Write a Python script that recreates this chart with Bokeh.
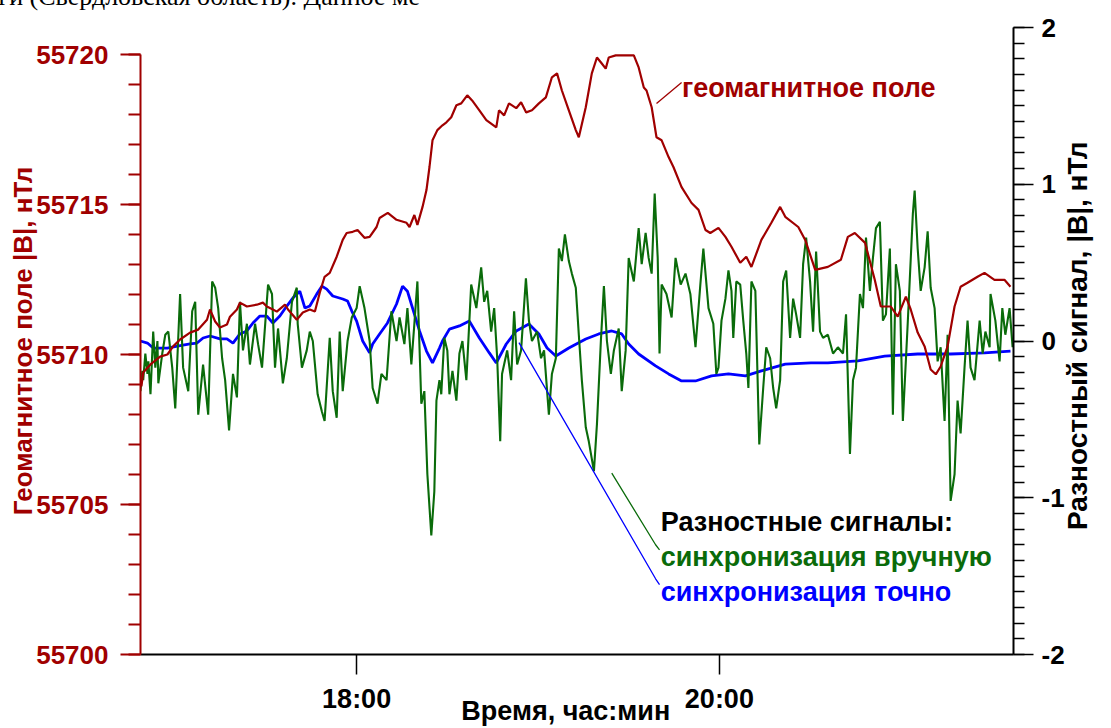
import math
from bokeh.plotting import figure
from bokeh.models import Range1d, LinearAxis, Label, FixedTicker, Title
from bokeh.embed import file_html
from bokeh.resources import INLINE

# ---------------------------------------------------------------
# Time axis: minutes after 16:00
# ---------------------------------------------------------------
field_t = [48.8, 49.4, 51.8, 55.0, 57.4, 59.3, 61.6, 64.9, 67.6, 70.5, 71.5, 73.2, 74.8, 77.1,
           78.1, 80.4, 81.4, 83.7, 87.0, 89.0, 90.3, 92.3, 93.6, 96.3, 97.3, 100.2, 102.2, 104.5,
           106.2, 107.8, 109.4, 111.1, 113.4, 115.4, 116.7, 118.7, 120.3, 122.6, 124.3, 126.6,
           127.6, 130.3, 133.2, 136.5, 137.5, 139.1, 140.1, 141.8, 143.1, 144.1, 145.1, 146.7,
           148.4, 149.7, 151.3, 153.0, 154.6, 156.6, 158.2, 160.6, 162.9, 166.2, 167.1, 168.8,
           170.4, 172.8, 174.4, 176.1, 178.0, 180.3, 182.6, 184.6, 186.3, 187.9, 190.2, 192.5,
           193.5, 195.8, 197.8, 199.5, 201.1, 202.4, 203.4, 205.7, 209.0, 211.7, 213.3, 215.0,
           215.9, 217.6, 219.2, 220.9, 223.2, 224.8, 227.5, 230.8, 233.1, 235.4, 237.0, 239.7,
           242.0, 244.0, 246.9, 248.9, 250.6, 253.9, 257.2, 260.1, 261.8, 266.1, 268.4, 271.7,
           275.9, 280.2, 282.5, 284.8, 288.2, 291.4, 293.4, 296.7, 299.0, 301.7, 303.3, 305.6,
           307.9, 309.9, 311.6, 313.2, 315.5, 317.8, 319.8, 322.1, 325.4, 327.7, 331.0, 334.3,
           336.3]
field_nT = [55708.94, 55709.40, 55709.67, 55709.93, 55710.00, 55710.27, 55710.50, 55710.73,
            55710.83, 55711.16, 55711.50, 55711.10, 55710.90, 55711.00, 55711.26, 55711.50,
            55711.73, 55711.60, 55711.66, 55711.73, 55711.60, 55711.50, 55711.43, 55711.66,
            55711.50, 55711.16, 55711.40, 55711.50, 55711.43, 55712.06, 55712.59, 55712.72,
            55713.26, 55713.82, 55714.05, 55714.09, 55714.15, 55713.89, 55713.92, 55714.25,
            55714.55, 55714.72, 55714.49, 55714.39, 55714.25, 55714.65, 55714.32, 55714.92,
            55715.48, 55716.25, 55717.14, 55717.48, 55717.64, 55717.74, 55717.91, 55718.31,
            55718.37, 55718.64, 55718.47, 55718.14, 55717.81, 55717.57, 55718.14, 55717.97,
            55718.37, 55718.21, 55718.41, 55718.07, 55718.14, 55718.37, 55718.57, 55719.24,
            55719.37, 55718.80, 55718.14, 55717.48, 55717.24, 55718.24, 55719.37, 55719.90,
            55719.70, 55719.53, 55719.90, 55719.97, 55719.97, 55719.97, 55719.57, 55718.90,
            55718.80, 55718.24, 55717.24, 55717.14, 55716.58, 55716.25, 55715.58, 55715.05,
            55714.82, 55714.15, 55714.05, 55714.22, 55713.92, 55713.59, 55713.06, 55713.26,
            55712.92, 55713.82, 55714.39, 55714.92, 55714.59, 55714.25, 55713.82, 55712.82,
            55712.92, 55713.16, 55713.92, 55714.05, 55713.72, 55712.49, 55711.60, 55711.60,
            55711.26, 55711.93, 55711.50, 55710.73, 55710.27, 55709.50, 55709.34, 55709.60,
            55710.27, 55711.60, 55712.26, 55712.39, 55712.59, 55712.72, 55712.49, 55712.49,
            55712.26]

# difference signal, exact synchronisation (nT)
exact_t = [48.5, 50.8, 52.7, 57.4, 60.7, 64.9, 67.2, 69.2, 71.5, 74.8, 77.1, 79.1, 81.4, 83.7,
           85.7, 88.0, 90.3, 92.3, 94.6, 96.9, 98.9, 101.2, 102.9, 104.5, 106.8, 108.5, 110.1,
           112.1, 115.4, 117.0, 118.4, 120.0, 122.0, 124.3, 125.3, 127.6, 130.2, 133.2, 135.2,
           136.8, 138.5, 140.8, 143.1, 145.1, 147.4, 148.4, 150.7, 154.0, 157.3, 160.6, 163.9,
           166.2, 169.5, 172.8, 177.0, 180.3, 183.0, 185.9, 190.2, 195.8, 200.1, 204.4, 207.7,
           210.0, 213.3, 218.9, 223.2, 227.5, 232.1, 237.4, 243.0, 248.6, 253.9, 261.8, 270.3,
           275.9, 285.8, 294.7, 305.6, 316.5, 327.7, 336.3]
exact_d = [0.00, -0.013, -0.045, -0.045, -0.032, -0.019, -0.013, 0.019, 0.032, 0.013, 0.013,
           -0.013, 0.045, 0.064, 0.115, 0.159, 0.159, 0.115, 0.159, 0.223, 0.274, 0.318, 0.210,
           0.223, 0.299, 0.350, 0.331, 0.287, 0.268, 0.255, 0.191, 0.127, 0.000, -0.076, -0.019,
           0.045, 0.115, 0.236, 0.350, 0.318, 0.210, 0.064, -0.064, -0.140, -0.045, 0.000, 0.076,
           0.096, 0.127, 0.019, -0.076, -0.140, -0.019, 0.064, 0.108, 0.045, -0.045, -0.096,
           -0.045, 0.013, 0.045, 0.064, 0.045, -0.019, -0.083, -0.159, -0.210, -0.255, -0.255,
           -0.223, -0.210, -0.223, -0.191, -0.147, -0.140, -0.140, -0.127, -0.096, -0.083,
           -0.083, -0.076, -0.064]

# difference signal, manual synchronisation (nT)
manual_t = [48.5, 49.1, 49.4, 50.1, 50.8, 51.1, 51.8, 52.7, 53.4, 54.1, 54.4, 55.7, 56.7, 57.7,
            59.0, 60.0, 60.7, 61.6, 62.6, 64.3, 65.6, 66.6, 67.6, 69.2, 70.9, 72.2, 73.2, 74.2,
            75.5, 76.5, 77.8, 79.1, 80.4, 81.4, 82.4, 83.7, 84.7, 86.4, 87.4, 88.7, 90.7, 92.0,
            93.0, 94.0, 95.6, 96.9, 98.6, 100.2, 100.5, 101.9, 103.5, 104.5, 105.5, 107.1, 108.5,
            109.4, 111.1, 112.1, 113.4, 114.4, 115.4, 117.0, 118.4, 120.0, 121.0, 122.6, 124.3,
            125.3, 126.9, 128.2, 129.9, 131.5, 133.2, 134.2, 135.8, 136.8, 138.1, 139.1, 140.1,
            141.4, 142.4, 143.4, 144.7, 145.7, 146.4, 147.4, 148.0, 149.0, 150.0, 150.7, 151.7,
            153.0, 154.0, 155.0, 156.3, 157.9, 159.6, 161.2, 162.2, 163.2, 164.5, 165.5, 166.5,
            167.5, 168.1, 169.8, 171.1, 172.1, 173.1, 174.4, 176.0, 177.0, 178.0, 179.7, 181.0,
            182.0, 183.6, 184.6, 185.9, 186.9, 187.9, 188.9, 190.2, 191.2, 192.5, 193.5, 194.5,
            195.8, 196.8, 198.5, 199.5, 200.8, 201.8, 202.8, 204.1, 205.1, 206.7, 207.7, 209.0,
            210.0, 211.7, 213.3, 214.3, 215.6, 216.6, 217.6, 218.6, 219.6, 220.2, 220.9, 222.5,
            224.2, 225.5, 227.2, 228.8, 230.4, 232.1, 233.7, 234.7, 236.4, 238.0, 239.0, 239.7,
            240.7, 242.0, 243.0, 244.0, 244.6, 245.6, 246.9, 247.9, 248.9, 249.6, 250.6, 251.9,
            253.2, 254.5, 255.5, 256.8, 257.8, 258.8, 260.1, 261.1, 262.1, 263.4, 264.4, 265.4,
            266.7, 267.7, 268.7, 270.0, 271.0, 272.0, 273.3, 274.3, 275.9, 277.6, 279.2, 280.9,
            281.9, 283.2, 284.2, 285.2, 286.5, 287.5, 288.5, 289.8, 290.8, 291.8, 293.1, 294.1,
            295.1, 296.4, 297.4, 298.4, 299.7, 300.7, 302.3, 304.0, 304.6, 305.6, 306.6, 307.9,
            308.9, 309.9, 311.2, 312.2, 313.2, 314.5, 315.5, 316.5, 317.8, 318.8, 319.8, 321.1,
            322.1, 323.1, 324.4, 326.1, 327.1, 328.0, 329.4, 329.7, 331.3, 332.7, 333.6, 334.6,
            336.0, 337.0]
manual_d = [-0.32, -0.19, -0.25, -0.08, -0.21, -0.13, -0.34, 0.06, -0.17, 0.00, -0.27, -0.08,
            0.04, 0.06, -0.17, -0.43, -0.11, 0.30, -0.17, -0.32, 0.19, 0.25, -0.47, -0.15, -0.47,
            0.38, 0.34, 0.21, -0.11, -0.25, -0.57, -0.21, -0.36, 0.25, -0.06, 0.11, -0.15, 0.11,
            -0.02, -0.17, 0.36, 0.30, -0.17, 0.08, -0.27, -0.11, 0.25, 0.34, 0.11, -0.17, -0.06,
            0.06, 0.00, -0.34, -0.45, -0.51, 0.02, -0.32, -0.49, 0.06, -0.32, 0.00, 0.15, 0.21,
            0.35, 0.21, 0.00, -0.30, -0.40, -0.21, -0.25, 0.19, 0.00, 0.15, -0.02, 0.21, -0.15,
            0.11, 0.38, -0.40, -0.32, -0.85, -1.24, -0.96, -0.38, -0.25, -0.34, 0.02, -0.06,
            -0.34, -0.19, -0.38, -0.08, 0.00, -0.25, 0.36, 0.21, 0.47, 0.25, 0.32, 0.06, 0.21,
            -0.11, -0.64, -0.21, -0.06, -0.25, 0.19, -0.15, -0.06, 0.40, 0.13, 0.00, 0.06, -0.11,
            -0.06, -0.47, -0.21, -0.11, 0.59, 0.51, 0.68, 0.51, 0.43, 0.34, 0.04, -0.25, -0.55,
            -0.64, -0.83, -0.53, 0.00, 0.35, 0.00, -0.21, -0.06, 0.08, -0.32, -0.06, 0.53, 0.38,
            0.72, 0.49, 0.69, 0.53, 0.43, 0.94, 0.53, -0.08, 0.36, 0.30, 0.15, 0.53, 0.36, 0.43,
            0.30, -0.04, 0.36, 0.59, 0.21, 0.11, -0.21, -0.17, 0.13, 0.27, 0.45, 0.32, 0.02,
            0.38, 0.36, 0.13, -0.08, -0.30, 0.38, 0.32, -0.66, -0.30, -0.04, -0.11, -0.30, -0.43,
            -0.25, 0.38, 0.45, 0.02, 0.27, 0.17, 0.02, 0.49, 0.66, 0.38, 0.06, 0.57, 0.06, 0.02,
            0.04, -0.08, -0.04, -0.08, 0.17, -0.72, -0.25, -0.17, 0.30, 0.21, 0.66, 0.32, 0.53,
            0.72, 0.76, 0.13, 0.17, 0.59, -0.47, 0.49, 0.32, -0.51, 0.11, 0.81, 0.96, 0.59, 0.32,
            0.47, 0.70, 0.34, 0.21, -0.13, -0.04, -0.51, 0.04, -1.02, -0.85, -0.38, -0.59, -0.17,
            0.13, -0.17, -0.25, 0.13, -0.08, 0.06, -0.04, 0.30, 0.13, -0.13, 0.21, 0.04, 0.21,
            -0.04]

x_ticks = [120, 240]
x_tick_labels = ["18:00", "20:00"]
left_ticks = [55700, 55705, 55710, 55715, 55720]
right_ticks = [-2, -1, 0, 1, 2]
right_tick_labels = ["-2", "-1", "0", "1", "2"]

# callout leader lines (time, value)
field_leader_t = [219.2, 227.5]
field_leader_v = [55718.37, 55719.07]
manual_leader_t = [204.4, 218.9, 220.2]
manual_leader_v = [-0.843, -1.300, -1.332]
exact_leader_t = [173.7, 218.9, 220.2]
exact_leader_v = [-0.010, -1.517, -1.554]

DARK_RED = "#a00000"
GREEN = "#0a6b0a"
BLUE = "#0000ff"
FONT = "Liberation Sans"
NBSP = "\u00a0"

p = figure(width=1111, height=728, output_backend="svg", toolbar_location=None,
           x_range=Range1d(48.5, 337.3), y_range=Range1d(55700, 55720.9),
           min_border_left=140, min_border_right=95, min_border_top=27,
           min_border_bottom=72, background_fill_color="white",
           border_fill_color="white")
p.outline_line_color = None
p.xgrid.visible = False
p.ygrid.visible = False
p.extra_y_ranges = {"diff": Range1d(-2, 2)}


def bare(axis):
    """Axis that carries only its title."""
    axis.ticker = FixedTicker(ticks=[], minor_ticks=[])
    axis.axis_line_color = None
    axis.major_tick_line_color = None
    axis.minor_tick_line_color = None
    axis.major_tick_out = 0
    axis.minor_tick_out = 0
    axis.major_label_text_font_size = "0px"
    axis.axis_label_text_font = FONT
    axis.axis_label_text_font_style = "bold"
    return axis


# ---- bottom (time) axis
xa = p.xaxis[0]
xa.ticker = FixedTicker(ticks=x_ticks, minor_ticks=[])
xa.major_label_overrides = dict(zip(x_ticks, x_tick_labels))
xa.axis_line_color = "black"
xa.axis_line_width = 2
xa.major_tick_line_color = "black"
xa.major_tick_line_width = 1.5
xa.major_tick_in = 0
xa.major_tick_out = 20
xa.minor_tick_line_color = None
xa.major_label_text_font = FONT
xa.major_label_text_font_style = "bold"
xa.major_label_text_font_size = "27px"
xa.major_label_text_color = "black"
xa.major_label_standoff = 9

# time-axis title (trailing no-break spaces nudge it left of the frame middle)
xt = bare(LinearAxis())
xt.axis_label = "Время, час:мин" + NBSP * 3
xt.axis_label_text_font_size = "27px"
xt.axis_label_text_color = "black"
xt.axis_label_standoff = -21
p.add_layout(xt, "below")

# ---- left axis (geomagnetic field)
ya = p.yaxis[0]
ya.ticker = FixedTicker(ticks=left_ticks, minor_ticks=list(range(55700, 55721)))
ya.bounds = (55700, 55720)
ya.axis_line_color = DARK_RED
ya.axis_line_width = 2
ya.major_tick_line_color = DARK_RED
ya.major_tick_line_width = 2
ya.major_tick_in = 0
ya.major_tick_out = 20
ya.minor_tick_line_color = DARK_RED
ya.minor_tick_line_width = 2
ya.minor_tick_in = 0
ya.minor_tick_out = 12
ya.major_label_text_font = FONT
ya.major_label_text_font_style = "bold"
ya.major_label_text_font_size = "26px"
ya.major_label_text_color = DARK_RED
ya.major_label_standoff = 12
ya.axis_label = "Геомагнитное поле |B|, нТл"
ya.axis_label_text_font = FONT
ya.axis_label_text_font_style = "bold"
ya.axis_label_text_font_size = "26px"
ya.axis_label_text_color = DARK_RED
ya.axis_label_standoff = -5

# ---- right axis (difference signal)
ra = LinearAxis(y_range_name="diff")
ra.ticker = FixedTicker(ticks=right_ticks, minor_ticks=[i / 10 for i in range(-20, 21)])
ra.major_label_overrides = dict(zip(right_ticks, right_tick_labels))
ra.axis_line_color = "black"
ra.axis_line_width = 2
ra.major_tick_line_color = "black"
ra.major_tick_line_width = 1.5
ra.major_tick_in = 0
ra.major_tick_out = 20
ra.minor_tick_line_color = "black"
ra.minor_tick_line_width = 1.5
ra.minor_tick_in = 0
ra.minor_tick_out = 11
ra.major_label_text_font = FONT
ra.major_label_text_font_style = "bold"
ra.major_label_text_font_size = "26px"
ra.major_label_text_color = "black"
ra.major_label_standoff = 8
p.add_layout(ra, "right")

# right-axis title, read bottom to top; leading no-break spaces lift its start
rt = bare(LinearAxis(y_range_name="diff"))
rt.axis_label = NBSP * 16 + "Разностный сигнал, |B|, нТл"
rt.axis_label_text_font_size = "28px"
rt.axis_label_text_color = "black"
rt.axis_label_standoff = 10
rt.axis_label_orientation = math.pi / 2
rt.axis_label_align = "start"
p.add_layout(rt, "right")

# ---- series
p.line(exact_t, exact_d, y_range_name="diff", line_color=BLUE, line_width=2.8)
p.line(manual_t, manual_d, y_range_name="diff", line_color=GREEN, line_width=2.1)
p.line(field_t, field_nT, line_color=DARK_RED, line_width=2.2)

# ---- callouts
p.line(field_leader_t, field_leader_v, line_color=DARK_RED, line_width=1.3)
p.line(manual_leader_t, manual_leader_v, y_range_name="diff", line_color=GREEN, line_width=1.3)
p.line(exact_leader_t, exact_leader_v, y_range_name="diff", line_color=BLUE, line_width=1.3)

def note(x, y, text, color, rng="default"):
    p.add_layout(Label(x=x, y=y, y_range_name=rng, text=text, text_color=color,
                       text_font=FONT, text_font_style="bold", text_font_size="27px",
                       text_align="left", text_baseline="alphabetic"))

note(227.6, 55718.90, "геомагнитное поле", DARK_RED)
note(220.6, -1.154, "Разностные сигналы:", "black", "diff")
note(220.6, -1.377, "синхронизация вручную", GREEN, "diff")
note(220.6, -1.599, "синхронизация точно", BLUE, "diff")

# running text of the page above the figure (a blank spacer row lifts it up)
serif = dict(text_font="Liberation Serif", text_font_style="normal",
             text_font_size="26px", text_color="black")
p.add_layout(Title(text=" ", align="left", standoff=-5, **serif), "above")
p.add_layout(Title(text="ги (Свердловская область). Данное ме", align="left",
                   vertical_align="top", offset=-142, standoff=-39, **serif), "above")

open("out.html", "w").write(file_html(p, INLINE))
